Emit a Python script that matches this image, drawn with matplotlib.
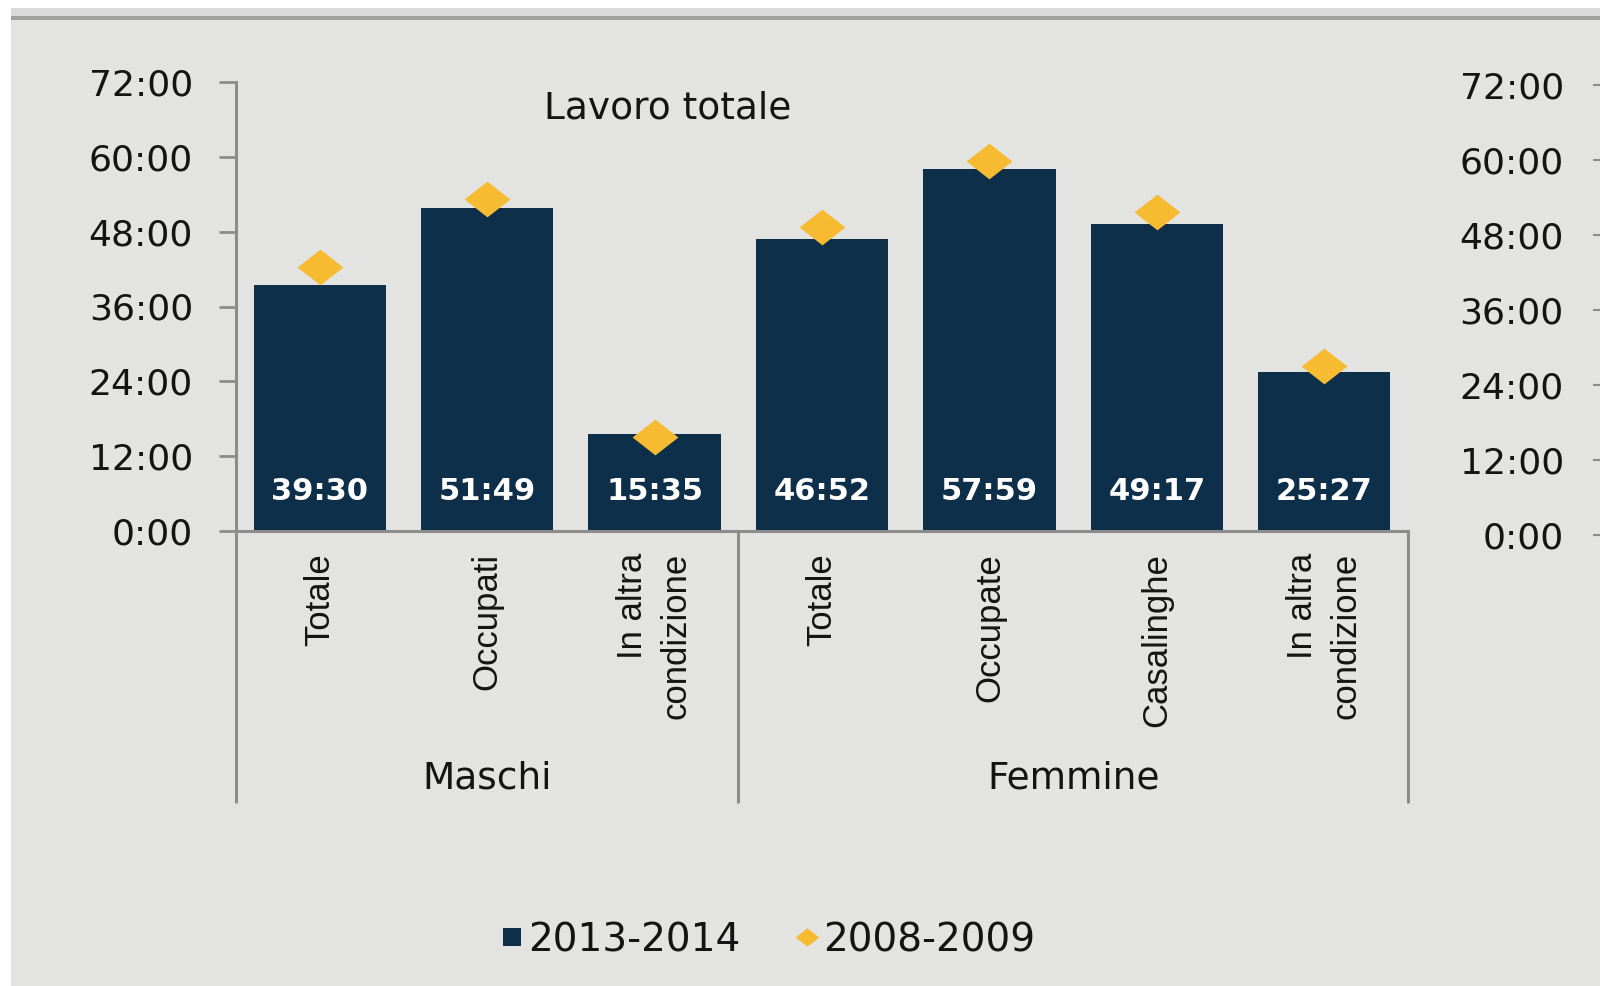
import numpy as np
import matplotlib
matplotlib.use("Agg")
import matplotlib.pyplot as plt
from matplotlib.lines import Line2D
from matplotlib.patches import Rectangle
from matplotlib.path import Path

# --- data -------------------------------------------------------------
categories = ["Totale", "Occupati", "In altra\ncondizione",
              "Totale", "Occupate", "Casalinghe", "In altra\ncondizione"]
groups = ["Maschi", "Femmine"]
group_sizes = [3, 4]
labels_2013 = ["39:30", "51:49", "15:35", "46:52", "57:59", "49:17", "25:27"]
hours_2008 = [42.3, 53.2, 15.0, 48.8, 59.4, 51.1, 26.4]
yticks = [0, 12, 24, 36, 48, 60, 72]
ytick_labels = ["0:00", "12:00", "24:00", "36:00", "48:00", "60:00", "72:00"]

def to_hours(s):
    h, m = s.split(":")
    return int(h) + int(m) / 60

hours_2013 = [to_hours(s) for s in labels_2013]

navy = "#0d2f4a"
gold = "#f6bb31"
bg = "#e3e3e1"
grey = "#8c8c8c"
txt = "#141414"

plt.rcParams["font.family"] = ["DejaVu Sans"]

fig = plt.figure(figsize=(16, 9.86), dpi=100)
fig.patch.set_facecolor("white")
H = 986.0
# background panel and top border
fig.patches.append(Rectangle((11 / 1600, 0), 1, 1 - 19 / H, transform=fig.transFigure,
                             facecolor=bg, edgecolor="none", zorder=-10))
fig.patches.append(Rectangle((11 / 1600, 1 - 16 / H), 1, 8 / H, transform=fig.transFigure,
                             facecolor="#dadada", edgecolor="none", zorder=-10))
fig.patches.append(Rectangle((11 / 1600, 1 - 20 / H), 1, 4 / H, transform=fig.transFigure,
                             facecolor="#a0a0a0", edgecolor="none", zorder=-9))

ax = fig.add_axes([236 / 1600, 1 - 531 / H, (1408 - 236) / 1600, (531 - 82) / H])
ax.set_facecolor("none")
x = np.arange(len(categories))

ax.bar(x, hours_2013, width=0.79, color=navy, zorder=2)

diamond = Path([(-1, 0), (0, 0.78), (1, 0), (0, -0.78), (-1, 0)],
               [Path.MOVETO, Path.LINETO, Path.LINETO, Path.LINETO, Path.CLOSEPOLY])
ax.plot(x, hours_2008, linestyle="none", marker=diamond, markersize=33,
        color=gold, markeredgewidth=0, zorder=3)

for xi, lab in zip(x, labels_2013):
    ax.text(xi, 6.3, lab, ha="center", va="center", color="white",
            fontsize=22, fontweight="bold", zorder=4)

ax.set_xlim(-0.5, 6.5)
ax.set_ylim(0, 72)
ax.set_yticks(yticks)
ax.set_yticklabels(ytick_labels)
ax.tick_params(axis="y", length=12, width=2, color=grey, pad=19,
               labelsize=26, labelcolor=txt)
ax.set_xticks(x)
ax.set_xticklabels(categories, rotation=90, multialignment="right",
                   linespacing=1.4, family=["Liberation Sans", "DejaVu Sans"])
ax.tick_params(axis="x", length=0, pad=16, labelsize=25, labelcolor=txt)

for side in ["top", "right"]:
    ax.spines[side].set_visible(False)
for side in ["left", "bottom"]:
    ax.spines[side].set_color(grey)
    ax.spines[side].set_linewidth(2.2)

ax.text((668 - 236) / 1172, 0.942, "Lavoro totale", transform=ax.transAxes,
        ha="center", va="center", fontsize=27, color=txt)

# group separators and group names
trans = ax.get_xaxis_transform()
bounds = np.concatenate([[0], np.cumsum(group_sizes)]) - 0.5
for b in bounds:
    ax.plot([b, b], [0, -0.606], transform=trans, color=grey, lw=2.2,
            clip_on=False, solid_capstyle="butt")
for g, lo, hi in zip(groups, bounds[:-1], bounds[1:]):
    ax.text((lo + hi) / 2, -0.552, g, transform=trans, ha="center", va="center",
            fontsize=27, color=txt)

# partial axis of the neighbouring chart at the right edge
ax2 = fig.add_axes([1.0, 1 - 535 / H, 0.01, (535 - 85) / H])
ax2.set_facecolor("none")
ax2.set_ylim(0, 72)
ax2.set_yticks(yticks)
ax2.set_yticklabels(ytick_labels)
ax2.set_xticks([])
for s in ax2.spines.values():
    s.set_visible(False)
ax2.tick_params(axis="y", length=5, width=1.5, color=grey, pad=21,
                labelsize=26, labelcolor=txt)

handles = [
    Line2D([], [], linestyle="none", marker="s", markersize=13, color=navy,
           markeredgewidth=0, label="2013-2014"),
    Line2D([], [], linestyle="none", marker=diamond, markersize=17, color=gold,
           markeredgewidth=0, label="2008-2009"),
]
fig.legend(handles=handles, loc="center", bbox_to_anchor=(768 / 1600, 1 - 940 / H),
           ncol=2, frameon=False, fontsize=28, handlelength=0.6,
           handletextpad=0.12, columnspacing=1.4, labelcolor=txt)

fig.savefig("out.png", dpi=100, facecolor=fig.get_facecolor())
